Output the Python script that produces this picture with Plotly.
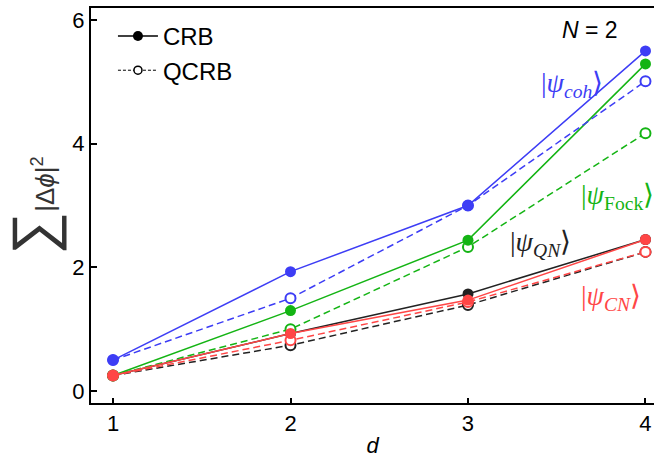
import plotly.graph_objects as go

d = [1, 2, 3, 4]

# CRB (solid, filled) and QCRB (dashed, open) for each state
coh_crb = [0.50, 1.93, 3.00, 5.50]
coh_qcrb = [0.50, 1.50, 3.00, 5.01]
fock_crb = [0.25, 1.30, 2.44, 5.29]
fock_qcrb = [0.25, 1.00, 2.33, 4.17]
qn_crb = [0.25, 0.93, 1.57, 2.45]
qn_qcrb = [0.25, 0.74, 1.39, 2.25]
cn_crb = [0.25, 0.93, 1.47, 2.45]
cn_qcrb = [0.25, 0.82, 1.44, 2.25]

BLUE = "#3d3df5"
GREEN = "#14b414"
BLACK = "#222222"
RED = "#ff4646"

series = [
    (qn_qcrb, qn_crb, BLACK),
    (fock_qcrb, fock_crb, GREEN),
    (coh_qcrb, coh_crb, BLUE),
    (cn_qcrb, cn_crb, RED),
]

fig = go.Figure()

for q, c, col in series:
    fig.add_trace(go.Scatter(
        x=d, y=q, mode="lines+markers", showlegend=False,
        line=dict(color=col, width=1.5, dash="7px,4px"),
        marker=dict(symbol="circle", size=10, color="white",
                    line=dict(color=col, width=2)),
    ))
    fig.add_trace(go.Scatter(
        x=d, y=c, mode="lines+markers", showlegend=False,
        line=dict(color=col, width=1.5),
        marker=dict(symbol="circle", size=11, color=col,
                    line=dict(width=0)),
    ))

# legend entries
fig.add_trace(go.Scatter(
    x=[None], y=[None], mode="lines+markers", name="CRB",
    line=dict(color="black", width=1.5),
    marker=dict(symbol="circle", size=10, color="black"),
))
fig.add_trace(go.Scatter(
    x=[None], y=[None], mode="lines+markers", name="QCRB",
    line=dict(color="black", width=1, dash="3px,2px"),
    marker=dict(symbol="circle", size=8, color="white",
                line=dict(color="black", width=1.5)),
))

serif = "Liberation Serif"
annos = [
    (3.586, 4.95, "|<i>ψ</i><sub><i>coh</i></sub>⟩", BLUE),
    (3.845, 3.14, "|<i>ψ</i><sub>Fock</sub>⟩", GREEN),
    (3.406, 2.39, "|<i>ψ</i><sub><i>QN</i></sub>⟩", BLACK),
    (3.806, 1.52, "|<i>ψ</i><sub><i>CN</i></sub>⟩", RED),
]
for x, y, t, col in annos:
    fig.add_annotation(x=x, y=y, text=t, showarrow=False,
                       font=dict(family=serif, size=28, color=col))

fig.add_annotation(x=3.687, y=5.84, text="<i>N</i> = 2", showarrow=False,
                   font=dict(family="Liberation Sans", size=23, color="black"))

fig.update_layout(
    width=654, height=459,
    margin=dict(l=91, r=0, t=8, b=56),
    plot_bgcolor="white", paper_bgcolor="white",
    font=dict(family="Liberation Sans", size=22, color="black"),
    legend=dict(x=0.039, y=0.985, xanchor="left", yanchor="top",
                bgcolor="rgba(0,0,0,0)", font=dict(size=24),
                tracegroupgap=0, itemwidth=40),
    xaxis=dict(
        range=[0.876, 4.048], tickvals=[1, 2, 3, 4],
        showline=True, linecolor="black", linewidth=2, mirror=True,
        ticks="inside", ticklen=5, tickwidth=2, tickcolor="black",
        showgrid=False, zeroline=False, tickfont=dict(size=22),
        title=dict(text="<i>d</i>", font=dict(size=22), standoff=2),
    ),
    yaxis=dict(
        range=[-0.194, 6.194], tickvals=[0, 2, 4, 6],
        showline=True, linecolor="black", linewidth=2,
        ticks="inside", ticklen=6, tickwidth=2, tickcolor="black",
        showgrid=False, zeroline=False, tickfont=dict(size=22),
        title=dict(text="<span style='font-size:60px'>∑</span>|Δ<i>ϕ</i>|<sup>2</sup>",
                   font=dict(size=26, color="#333333"), standoff=12),
    ),
)

fig.write_html("out.html")
